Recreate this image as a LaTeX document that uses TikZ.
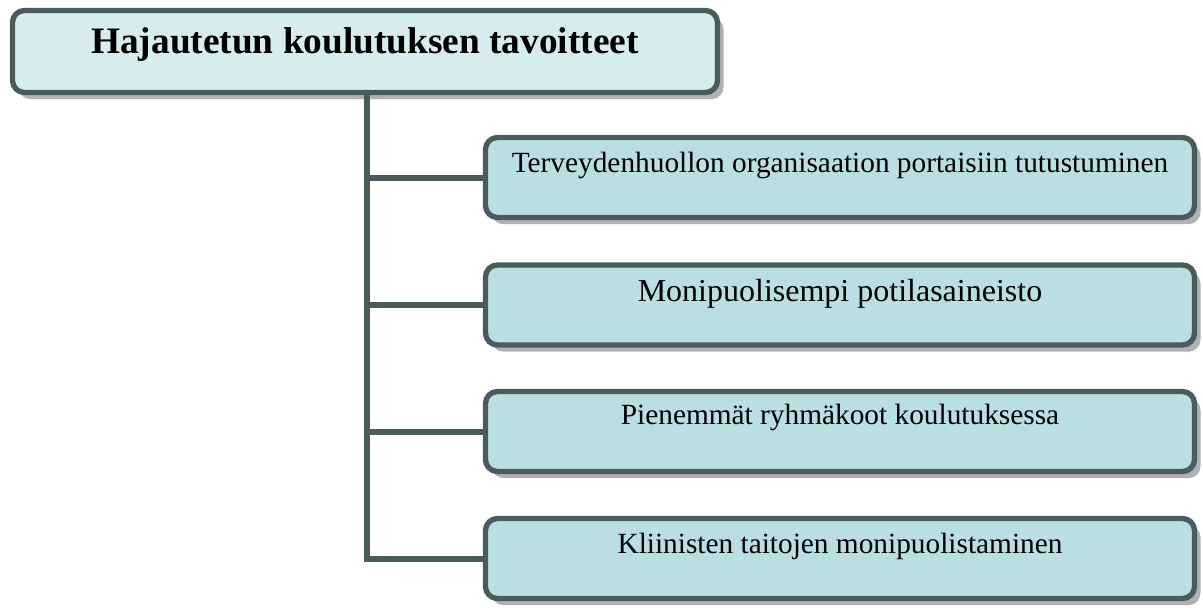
\documentclass[tikz,border=0pt]{standalone}
\usepackage{fontspec}
\setmainfont{Liberation Serif}
\usetikzlibrary{shadows}
\definecolor{edgecol}{HTML}{4B5B5C}
\definecolor{topfill}{HTML}{D7ECEF}
\definecolor{childfill}{HTML}{B9DFE3}
\definecolor{shadowcol}{HTML}{A8A8A8}
\tikzset{
  boxbase/.style={draw=edgecol, line width=4pt, rounded corners=9pt, inner sep=0pt,
    drop shadow={shadow xshift=4.5pt, shadow yshift=-5pt, fill=shadowcol, opacity=0.9}},
  topbox/.style={boxbase, fill=topfill, minimum width=528.75pt,
    text height=32.5pt, text depth=29pt, font=\fontsize{28}{32}\selectfont\bfseries},
  childbox/.style={boxbase, fill=childfill, minimum width=531.75pt,
    text height=26pt, text depth=34pt, font=\fontsize{22}{26}\selectfont},
  conn/.style={draw=edgecol, line width=4.5pt}
}
\begin{document}
\begin{tikzpicture}[x=0.75pt, y=-0.75pt]
\useasboundingbox (0,0) rectangle (1203,607);
\node[topbox] (top) at (365,51.5) {Hajautetun koulutuksen tavoitteet};
\node[childbox] (c1) at (840,177.5) {Terveydenhuollon organisaation portaisiin tutustuminen};
\node[childbox, font=\fontsize{24}{28}\selectfont, text height=27pt, text depth=33pt] (c2) at (840,305) {Monipuolisempi potilasaineisto};
\node[childbox, text height=25pt, text depth=35pt] (c3) at (840,431.5) {Pienemmät ryhmäkoot koulutuksessa};
\node[childbox] (c4) at (840,558.5) {Kliinisten taitojen monipuolistaminen};
\coordinate (trunk) at (367,0);
\draw[conn] (top.south -| trunk) |- (c4.west);
\draw[conn] (c1.west) -- (c1.west -| trunk);
\draw[conn] (c2.west) -- (c2.west -| trunk);
\draw[conn] (c3.west) -- (c3.west -| trunk);
\end{tikzpicture}
\end{document}
